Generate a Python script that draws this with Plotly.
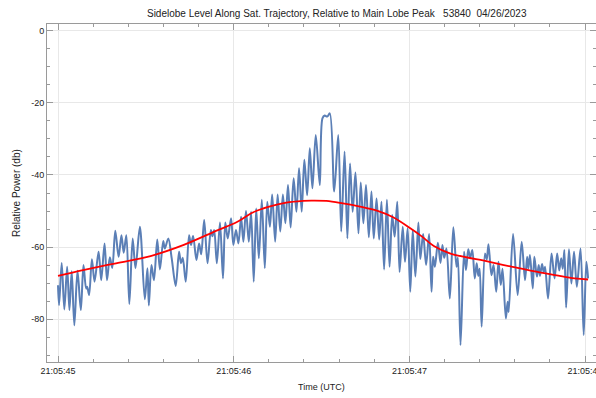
import plotly.graph_objects as go

# seconds after 21:05:45 UTC, and relative power (dB) at lobe peaks / nulls
t_blue = [0.000, 0.006, 0.021, 0.036, 0.052, 0.065, 0.078, 0.093, 0.111, 0.130,
          0.145, 0.160, 0.166, 0.177, 0.193, 0.208, 0.231, 0.246, 0.265, 0.279,
          0.295, 0.309, 0.326, 0.345, 0.361, 0.374, 0.389, 0.406, 0.425, 0.441,
          0.466, 0.494, 0.509, 0.517, 0.532, 0.546, 0.565, 0.580, 0.599, 0.608,
          0.628, 0.647, 0.670, 0.689, 0.700, 0.710, 0.727, 0.746, 0.757, 0.769,
          0.788, 0.803, 0.815, 0.832, 0.851, 0.870, 0.879, 0.889, 0.904, 0.922,
          0.939, 0.952, 0.966, 0.985, 0.998, 1.013, 1.027, 1.042, 1.055, 1.070,
          1.086, 1.099, 1.114, 1.128, 1.143, 1.160, 1.177, 1.191, 1.206, 1.219,
          1.236, 1.250, 1.265, 1.280, 1.294, 1.309, 1.324, 1.341, 1.357, 1.372,
          1.387, 1.402, 1.418, 1.433, 1.448, 1.467, 1.490, 1.505, 1.518, 1.532,
          1.547, 1.572, 1.595, 1.612, 1.631, 1.647, 1.662, 1.677, 1.693, 1.710,
          1.723, 1.738, 1.753, 1.769, 1.784, 1.797, 1.813, 1.828, 1.841, 1.856,
          1.872, 1.887, 1.902, 1.916, 1.931, 1.944, 1.962, 1.975, 1.990, 2.005,
          2.019, 2.034, 2.051, 2.062, 2.078, 2.095, 2.112, 2.126, 2.135, 2.145,
          2.162, 2.177, 2.188, 2.198, 2.211, 2.230, 2.250, 2.268, 2.276, 2.291,
          2.311, 2.322, 2.335, 2.346, 2.358, 2.372, 2.383, 2.392, 2.400, 2.411,
          2.430, 2.440, 2.450, 2.467, 2.479, 2.494, 2.507, 2.520, 2.530, 2.549,
          2.559, 2.565, 2.590, 2.616, 2.639, 2.658, 2.670, 2.677, 2.686, 2.702,
          2.711, 2.726, 2.736, 2.743, 2.755, 2.764, 2.772, 2.789, 2.809, 2.826,
          2.841, 2.853, 2.864, 2.873, 2.882, 2.892, 2.908, 2.922, 2.937, 2.953,
          2.974, 2.992, 3.007, 3.017]
p_blue = [-70.6, -76.1, -64.4, -77.3, -65.5, -77.5, -66.7, -81.7, -66.6, -77.5,
          -65.0, -71.5, -71.0, -73.3, -63.4, -69.6, -61.3, -69.2, -59.0, -69.2,
          -62.8, -65.8, -55.5, -62.7, -56.7, -61.6, -56.7, -75.8, -57.6, -65.9,
          -54.4, -74.5, -65.9, -76.2, -65.0, -69.2, -57.9, -66.2, -58.3, -60.4,
          -57.6, -63.1, -70.8, -61.3, -64.5, -63.0, -69.6, -56.7, -59.4, -56.9,
          -63.6, -59.0, -62.0, -52.5, -64.5, -55.3, -57.0, -55.3, -64.5, -53.2,
          -68.7, -53.2, -57.6, -52.0, -59.4, -55.3, -59.0, -51.6, -58.5, -50.0,
          -58.5, -50.2, -69.6, -49.3, -63.1, -46.9, -65.9, -47.4, -54.4, -45.4,
          -58.5, -45.4, -55.7, -45.4, -53.4, -42.8, -54.6, -40.9, -50.2, -38.1,
          -50.2, -35.8, -45.6, -32.6, -43.7, -28.9, -42.8, -24.3, -23.5, -23.8,
          -22.9, -44.6, -28.9, -55.7, -33.5, -57.6, -36.8, -50.2, -39.3, -56.2,
          -42.1, -53.4, -42.8, -57.3, -44.6, -57.6, -46.5, -57.9, -47.4, -66.2,
          -46.9, -65.5, -51.1, -57.1, -47.4, -66.9, -54.4, -64.1, -54.8, -72.4,
          -55.3, -68.2, -53.2, -63.3, -56.4, -65.0, -56.4, -72.4, -62.7, -65.5,
          -58.8, -64.4, -59.4, -63.0, -60.4, -74.3, -54.5, -65.5, -63.0, -87.2,
          -61.3, -66.4, -60.6, -63.0, -60.8, -68.7, -64.5, -68.0, -66.0, -82.1,
          -61.8, -63.5, -59.2, -67.8, -65.0, -72.4, -64.1, -70.5, -66.0, -79.8,
          -75.2, -78.0, -56.4, -73.3, -58.5, -69.2, -62.7, -66.0, -62.2, -71.5,
          -62.7, -68.2, -65.0, -68.0, -64.7, -67.0, -65.5, -74.3, -61.8, -68.7,
          -61.8, -66.5, -63.1, -66.0, -60.8, -76.8, -60.6, -70.1, -61.3, -71.0,
          -60.4, -84.4, -64.1, -68.7]

# smooth fitted trend
t_fit = [0.0, 0.143, 0.33, 0.527, 0.716, 0.910, 1.013, 1.109, 1.202, 1.299,
         1.395, 1.442, 1.528, 1.622, 1.719, 1.815, 1.910, 2.005, 2.072, 2.139,
         2.234, 2.330, 2.425, 2.587, 2.749, 2.940, 3.017]
p_fit = [-68.0, -66.4, -64.5, -62.5, -59.4, -55.3, -53.2, -50.4, -48.8, -47.7,
         -47.2, -47.1, -47.2, -47.9, -48.8, -49.9, -51.8, -54.8, -57.1, -59.7,
         -61.8, -62.9, -63.8, -65.5, -67.1, -68.7, -69.0]

x_tick_vals = [0, 1, 2, 3]
x_tick_text = ["21:05:45", "21:05:46", "21:05:47", "21:05:48"]
y_tick_vals = [0, -20, -40, -60, -80]
y_tick_text = ["0", "-20", "-40", "-60", "-80"]

title_text = ("Sidelobe Level Along Sat. Trajectory, Relative to Main Lobe Peak"
              "\u00a0\u00a0\u00a053840\u00a0\u00a004/26/2023")

FONT = "Liberation Sans, Arial, Helvetica, sans-serif"
FRAME = "#9a9a9a"

fig = go.Figure()
fig.add_trace(go.Scatter(x=t_blue, y=p_blue, mode="lines",
                         line=dict(color="#5b7fb6", width=2, shape="spline", smoothing=0.9),
                         hoverinfo="skip", showlegend=False))
fig.add_trace(go.Scatter(x=t_fit, y=p_fit, mode="lines",
                         line=dict(color="#ff0000", width=1.8, shape="spline", smoothing=1.0),
                         hoverinfo="skip", showlegend=False))

axis_common = dict(
    showline=True, linecolor=FRAME, linewidth=1, mirror="allticks",
    ticks="inside", ticklen=6, tickcolor=FRAME, tickwidth=1,
    showgrid=True, gridcolor="#e8e8e8", gridwidth=1, zeroline=False,
    tickfont=dict(family=FONT, size=9, color="#222222"),
    ticklabeloverflow="allow", automargin=False,
)

fig.update_layout(
    width=596, height=398,
    margin=dict(l=47, r=0, t=24, b=36, autoexpand=False),
    paper_bgcolor="white", plot_bgcolor="white",
    font=dict(family=FONT, size=9, color="#222222"),
    title=dict(text=title_text, x=0.565, xanchor="center", y=1 - 13 / 398, yanchor="middle",
               yref="container", font=dict(family=FONT, size=10, color="#222222")),
    xaxis=dict(range=[-0.0626, 3.062], tickmode="array", tickvals=x_tick_vals,
               ticktext=x_tick_text,
               minor=dict(dtick=0.2, tick0=0, ticks="inside", ticklen=3, tickcolor=FRAME,
                          showgrid=False),
               **axis_common),
    yaxis=dict(range=[-91.9, 1.9], tickmode="array", tickvals=y_tick_vals,
               ticktext=y_tick_text,
               minor=dict(dtick=5, tick0=0, ticks="inside", ticklen=3, tickcolor=FRAME,
                          showgrid=False),
               **axis_common),
    annotations=[
        dict(text="Time (UTC)", xref="paper", yref="paper", x=0.5, y=-(387 - 362) / 338,
             xanchor="center", yanchor="middle", showarrow=False,
             font=dict(family=FONT, size=9, color="#222222")),
        dict(text="Relative Power (db)", xref="paper", yref="paper", x=(16 - 47) / 549,
             y=(362 - 193) / 338, xanchor="center", yanchor="middle", textangle=-90,
             showarrow=False, font=dict(family=FONT, size=10, color="#222222")),
    ],
)

fig.write_html("out.html")
